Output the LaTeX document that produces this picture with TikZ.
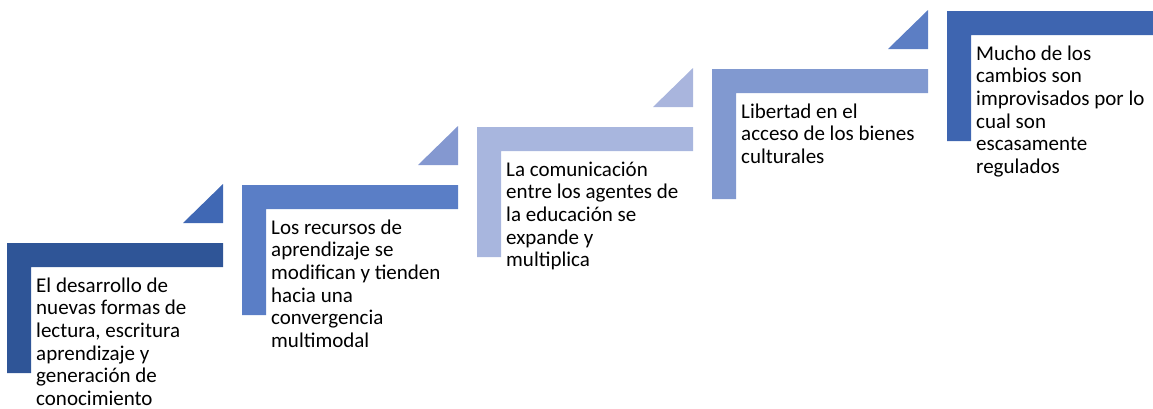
\documentclass[tikz,border=0pt]{standalone}
\usepackage{fontspec}
\setmainfont{Carlito}
\definecolor{sA}{HTML}{2F5597}
\definecolor{sB}{HTML}{5A7EC6}
\definecolor{sC}{HTML}{A8B6DE}
\definecolor{sD}{HTML}{8199D0}
\definecolor{sE}{HTML}{3E65B0}
\definecolor{tA}{HTML}{4068B4}
\definecolor{tB}{HTML}{8498D0}
\definecolor{tC}{HTML}{A9B5DD}
\definecolor{tD}{HTML}{5C7EC4}
\newcommand\stepshape[3]{%
  \fill[#3] (#1,#2) -- ++(216,0) -- ++(0,24) -- ++(-192,0) -- ++(0,106) -- ++(-24,0) -- cycle;}
\newcommand\steptri[3]{%
  \fill[#3] (#1+176,#2-20) -- (#1+216,#2-20) -- (#1+216,#2-59) -- cycle;}
\tikzset{steptext/.style={anchor=north west,inner sep=0pt,align=left,text=black,
  font=\fontsize{21}{22.7}\selectfont}}
\begin{document}
\begin{tikzpicture}[x=1pt,y=-1pt]
\useasboundingbox (0,0) rectangle (1153,408);
\clip (0,0) rectangle (1153,408);
\stepshape{7}{243}{sA}
\steptri{7}{243}{tA}
\stepshape{242}{185}{sB}
\steptri{242}{185}{tB}
\stepshape{477}{127}{sC}
\steptri{477}{127}{tC}
\stepshape{712}{69}{sD}
\steptri{712}{69}{tD}
\stepshape{947}{11}{sE}
\node[steptext] (t1) at (36,276.1) {\strut El desarrollo de\\nuevas formas de\\lectura, escritura\\aprendizaje y\\generación de\\conocimiento};
\node[steptext] (t2) at (271,218.1) {\strut Los recursos de\\aprendizaje se\\modifican y tienden\\hacia una\\convergencia\\multimodal};
\node[steptext] (t3) at (506,160.1) {\strut La comunicación\\entre los agentes de\\la educación se\\expande y\\multiplica};
\node[steptext] (t4) at (741,102.1) {\strut Libertad en el\\acceso de los bienes\\culturales};
\node[steptext] (t5) at (976,44.1) {\strut Mucho de los\\cambios son\\improvisados por lo\\cual son\\escasamente\\regulados};
\end{tikzpicture}
\end{document}
